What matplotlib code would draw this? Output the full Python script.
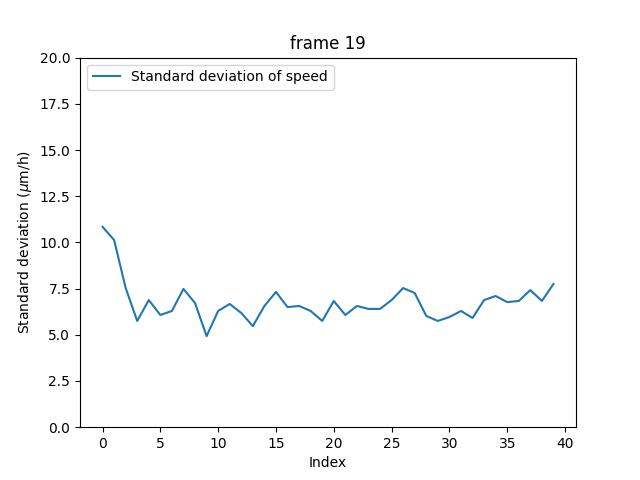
import matplotlib
matplotlib.use("Agg")
import matplotlib.pyplot as plt

# standard deviation of speed per index
std_speed = [10.84, 10.13, 7.53, 5.75, 6.88, 6.07, 6.29, 7.48, 6.72, 4.93,
             6.29, 6.67, 6.18, 5.47, 6.56, 7.32, 6.50, 6.56, 6.29, 5.75,
             6.83, 6.07, 6.56, 6.40, 6.40, 6.88, 7.53, 7.26, 6.02, 5.75,
             5.96, 6.29, 5.91, 6.88, 7.10, 6.77, 6.83, 7.42, 6.83, 7.75]
index = list(range(len(std_speed)))

plt.figure(figsize=(6.4, 4.8), dpi=100)
plt.plot(index, std_speed, label="Standard deviation of speed")
plt.ylim(0, 20)
plt.xlabel("Index")
plt.ylabel("Standard deviation ($\\mu$m/h)")
plt.title("frame 19")
plt.legend(loc="upper left")
plt.savefig("out.png")
